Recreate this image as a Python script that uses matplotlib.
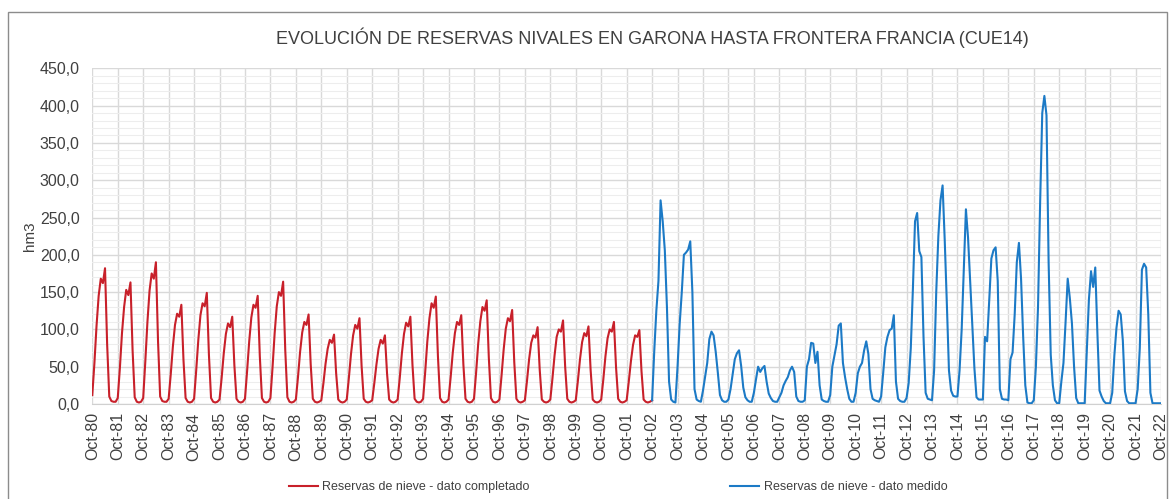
import matplotlib
matplotlib.use("Agg")
import matplotlib.pyplot as plt
from matplotlib.patches import Rectangle
from matplotlib.ticker import FuncFormatter, MultipleLocator
import numpy as np

plt.rcParams['font.family'] = ['Liberation Sans', 'DejaVu Sans']

# ---------------- data (hm3, monthly Oct..Sep per hydrological year) ----------------
red_years = [
    [12, 55, 105, 145, 168, 162, 182, 80, 10, 4, 3, 3],     # 80-81
    [8, 48, 95, 130, 153, 146, 163, 72, 9, 3, 2, 3],        # 81-82
    [8, 57, 110, 152, 175, 168, 190, 84, 10, 4, 3, 3],      # 82-83
    [7, 40, 77, 106, 121, 117, 133, 59, 8, 3, 2, 3],        # 83-84
    [7, 45, 86, 119, 135, 131, 149, 66, 8, 3, 2, 3],        # 84-85
    [6, 35, 68, 94, 108, 103, 117, 52, 7, 3, 2, 3],         # 85-86
    [7, 44, 84, 116, 133, 129, 145, 64, 8, 3, 2, 3],        # 86-87
    [8, 49, 95, 131, 150, 145, 164, 72, 9, 3, 2, 3],        # 87-88
    [6, 36, 70, 96, 110, 106, 120, 53, 7, 3, 2, 3],         # 88-89
    [5, 28, 54, 74, 86, 82, 93, 41, 6, 3, 2, 3],            # 89-90
    [6, 35, 67, 92, 106, 101, 115, 51, 7, 3, 2, 3],         # 90-91
    [5, 28, 53, 74, 86, 81, 92, 41, 6, 3, 2, 3],            # 91-92
    [6, 35, 68, 94, 109, 104, 117, 52, 7, 3, 2, 3],         # 92-93
    [7, 43, 84, 115, 135, 129, 144, 64, 8, 3, 2, 3],        # 93-94
    [6, 36, 69, 95, 110, 106, 119, 53, 7, 3, 2, 3],         # 94-95
    [7, 42, 81, 111, 130, 125, 139, 62, 8, 3, 2, 3],        # 95-96
    [6, 38, 73, 101, 115, 111, 126, 56, 7, 3, 2, 3],        # 96-97
    [5, 31, 60, 82, 92, 89, 103, 46, 6, 3, 2, 3],           # 97-98
    [6, 34, 65, 90, 100, 97, 112, 50, 7, 3, 2, 3],          # 98-99
    [5, 31, 60, 83, 95, 91, 104, 46, 6, 3, 2, 3],           # 99-00
    [6, 33, 64, 88, 100, 97, 110, 49, 7, 3, 2, 3],          # 00-01
    [5, 30, 57, 79, 92, 90, 99, 44, 6, 3, 2, 3],            # 01-02
]
red_last = [5]  # Oct-02

blue_years = [
    [5, 70, 125, 165, 273, 245, 206, 130, 30, 6, 3, 2],     # 02-03
    [50, 107, 150, 200, 203, 207, 218, 150, 20, 6, 4, 3],   # 03-04
    [18, 37, 55, 87, 97, 92, 70, 42, 12, 5, 3, 3],          # 04-05
    [6, 20, 40, 60, 68, 72, 51, 22, 9, 5, 3, 3],            # 05-06
    [15, 33, 50, 43, 48, 51, 30, 14, 8, 4, 3, 3],           # 06-07
    [9, 15, 25, 31, 36, 45, 50, 43, 10, 4, 3, 3],           # 07-08
    [5, 50, 60, 82, 81, 55, 70, 25, 6, 4, 3, 3],            # 08-09
    [12, 50, 65, 80, 105, 108, 55, 36, 20, 7, 3, 3],        # 09-10
    [15, 41, 50, 55, 72, 84, 67, 20, 7, 5, 4, 3],           # 10-11
    [10, 42, 76, 90, 99, 101, 119, 30, 7, 4, 3, 3],         # 11-12
    [8, 28, 75, 155, 245, 256, 205, 197, 90, 15, 7, 6],     # 12-13
    [5, 45, 150, 225, 273, 293, 220, 135, 45, 18, 11, 10],  # 13-14
    [10, 45, 100, 180, 261, 223, 165, 108, 48, 9, 6, 6],    # 14-15
    [6, 90, 84, 140, 195, 206, 210, 165, 20, 7, 6, 6],      # 15-16
    [5, 60, 69, 120, 190, 216, 168, 90, 25, 2, 1, 1],       # 16-17
    [5, 50, 130, 270, 390, 413, 387, 190, 66, 25, 5, 1],    # 17-18
    [1, 30, 55, 110, 168, 142, 108, 50, 8, 1, 1, 1],        # 18-19
    [1, 70, 140, 178, 157, 183, 95, 18, 10, 4, 1, 1],       # 19-20
    [1, 15, 65, 102, 125, 120, 85, 17, 4, 1, 1, 1],         # 20-21
    [1, 20, 75, 180, 188, 183, 120, 15, 1, 1, 1, 1],        # 21-22
]
blue_last = [1]  # Oct-22

years = list(range(1980, 2023))
tick_labels = ["Oct-%02d" % (y % 100) for y in years]

red_label = "Reservas de nieve - dato completado"
blue_label = "Reservas de nieve - dato medido"
title = "EVOLUCIÓN DE RESERVAS NIVALES EN GARONA HASTA FRONTERA FRANCIA (CUE14)"

red_values = [v for yr in red_years for v in yr] + red_last
blue_values = [v for yr in blue_years for v in yr] + blue_last
red_x = np.arange(len(red_values))
blue_x = np.arange(len(blue_values)) + len(red_years) * 12

# ---------------- figure ----------------
W, H = 1171, 499
fig = plt.figure(figsize=(W / 100, H / 100), dpi=100)

# outer chart border
fig.add_artist(Rectangle((7.5 / W, -0.02), (1167 - 7.5) / W, (H - 11.5) / H + 0.02,
                         transform=fig.transFigure, fill=False,
                         ec='#8C8C8C', lw=1.0))

L, R, T, B = 92.3, 1161, 68.3, 404
ax = fig.add_axes([L / W, (H - B) / H, (R - L) / W, (B - T) / H])

ax.plot(red_x, red_values, color='#C8202A', lw=1.5, label=red_label,
        solid_joinstyle='round', zorder=3)
ax.plot(blue_x, blue_values, color='#1C7AC6', lw=1.5, label=blue_label,
        solid_joinstyle='round', zorder=3)

ax.set_xlim(0, (len(years) - 1) * 12)
ax.set_ylim(0, 450)
ax.set_xticks(np.arange(len(years)) * 12)
ax.set_xticklabels(tick_labels, rotation=90, fontsize=11.5, color='#404040')
ax.yaxis.set_major_locator(MultipleLocator(50))
ax.yaxis.set_minor_locator(MultipleLocator(10))
ax.yaxis.set_major_formatter(FuncFormatter(lambda v, p: ("%.1f" % v).replace('.', ',')))
ax.tick_params(axis='y', which='both', length=0, labelsize=11.5, labelcolor='#404040', pad=9)
ax.tick_params(axis='x', which='both', length=0, pad=6)

ax.grid(which='major', axis='y', color='#D9D9D9', lw=1.0, zorder=0)
ax.grid(which='minor', axis='y', color='#EDEDED', lw=0.8, zorder=0)
ax.grid(which='major', axis='x', color='#D9D9D9', lw=1.0, zorder=0)
for s in ['top', 'right', 'left']:
    ax.spines[s].set_visible(False)
ax.spines['bottom'].set_color('#D0D0D0')
ax.set_axisbelow(True)

ax.set_ylabel("hm3", fontsize=11, color='#404040', labelpad=2)

fig.text(652 / W, 1 - 38 / H, title, ha='center', va='center',
         fontsize=13, color='#404040')

fig.legend(loc='center', bbox_to_anchor=(618 / W, 1 - 487 / H), ncol=2,
           frameon=False, fontsize=9, handlelength=2.3, columnspacing=16,
           handletextpad=0.4, labelcolor='#404040')

fig.savefig("out.png", dpi=100)
